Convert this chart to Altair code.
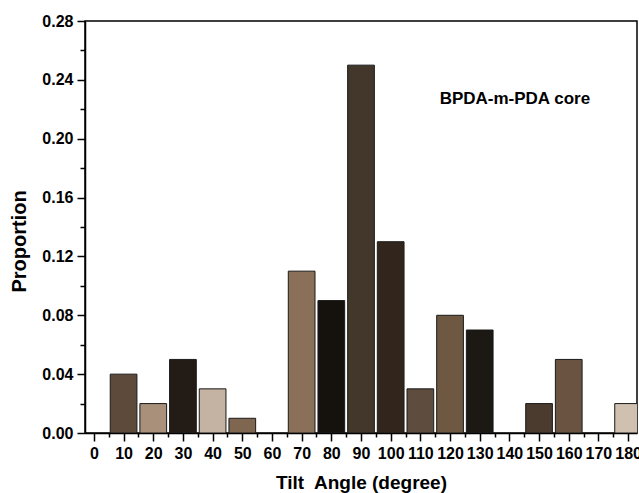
import altair as alt
import pandas as pd

angles = [10, 20, 30, 40, 50, 70, 80, 90, 100, 110, 120, 130, 150, 160, 180]
proportions = [0.04, 0.02, 0.05, 0.03, 0.01, 0.11, 0.09, 0.25, 0.13, 0.03, 0.08, 0.07, 0.02, 0.05, 0.02]
colors = ["#5e4a3a", "#a8907a", "#231c16", "#c4b2a2", "#7e6650", "#8a7058", "#15120e",
          "#43362a", "#32261c", "#5e4c3e", "#6e5842", "#1c1814", "#4a3b2e", "#6a5441", "#cfc0b0"]
bar_half_width = 4.5
x_ticks = list(range(0, 181, 5))
y_ticks = [round(i * 0.02, 2) for i in range(15)]

df = pd.DataFrame({"angle": angles, "prop": proportions, "color": colors})
df["x0"] = df["angle"] - bar_half_width
df["x1"] = df["angle"] + bar_half_width

FONT = "Liberation Sans"
x_scale = alt.Scale(domain=[-3, 183], nice=False, zero=False)
y_scale = alt.Scale(domain=[0, 0.28], nice=False)

x_axis = alt.Axis(
    values=x_ticks,
    labelExpr="datum.value % 10 == 0 ? datum.label : ''",
    tickSize={"condition": {"test": "datum.value % 10 == 0", "value": 8}, "value": 4},
    labelFont=FONT, labelFontSize=16, labelFontWeight="bold", labelColor="black",
    labelPadding=4, labelAngle=0,
    title="Tilt\u00a0 Angle (degree)", titleFont=FONT, titleFontSize=19, titleFontWeight="bold",
    titleColor="black", titlePadding=12,
    domainColor="black", domainWidth=1.5, tickColor="black", tickWidth=1.5,
    grid=False, labelFlush=False, labelOverlap=False, labelBound=False, labelSeparation=0,
)
y_axis = alt.Axis(
    values=y_ticks,
    labelExpr="round(datum.value * 100) % 4 == 0 ? format(datum.value, '.2f') : ''",
    tickSize={"condition": {"test": "round(datum.value * 100) % 4 == 0", "value": 8}, "value": 5},
    labelFont=FONT, labelFontSize=16, labelFontWeight="bold", labelColor="black",
    labelPadding=4,
    title="Proportion", titleFont=FONT, titleFontSize=20, titleFontWeight="bold",
    titleColor="black", titlePadding=12, titleY=220,
    domainColor="black", domainWidth=1.5, tickColor="black", tickWidth=1.5,
    grid=False, labelFlush=False, labelOverlap=False, labelBound=False,
)

bars = alt.Chart(df).mark_bar(stroke="#1a1a1a", strokeWidth=1, clip=True).encode(
    x=alt.X("x0:Q", scale=x_scale, axis=x_axis),
    x2="x1:Q",
    y=alt.Y("prop:Q", scale=y_scale, axis=y_axis),
    y2=alt.datum(0),
    color=alt.Color("color:N", scale=None),
)

label_df = pd.DataFrame({"x": [116.5], "y": [0.227], "t": ["BPDA-m-PDA core"]})
label = alt.Chart(label_df).mark_text(
    align="left", baseline="middle", font=FONT, fontSize=17, fontWeight="bold", color="black"
).encode(
    x=alt.X("x:Q", scale=x_scale, axis=x_axis),
    y=alt.Y("y:Q", scale=y_scale, axis=y_axis),
    text="t:N",
)

chart = alt.layer(bars, label).properties(
    width=552, height=412,
    autosize=alt.AutoSizeParams(type="none"),
    padding={"left": 85, "top": 21, "right": 2, "bottom": 60},
    background="white",
).configure_view(stroke="black", strokeWidth=1.5)

chart.save("out.html", embed_options={"renderer": "svg", "actions": False})
